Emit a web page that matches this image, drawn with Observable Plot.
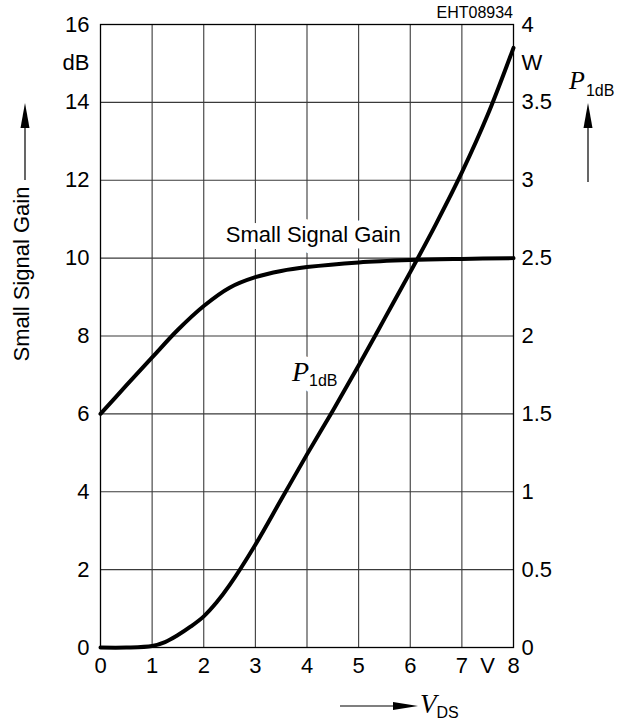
<!DOCTYPE html>
<html>
<head>
<meta charset="utf-8">
<script src="https://cdn.jsdelivr.net/npm/d3@7"></script>
<script src="https://cdn.jsdelivr.net/npm/@observablehq/plot@0.6"></script>
<style>
  html, body { margin: 0; padding: 0; background: #fff; }
  #chart svg { display: block; }
</style>
</head>
<body>
<div id="chart"></div>
<script>
// ---- data ----
const gainVds = [0, 0.5, 1, 1.5, 2, 2.5, 3, 3.5, 4, 5, 6, 7, 8];
const gainDb  = [6, 6.73, 7.45, 8.16, 8.77, 9.24, 9.51, 9.67, 9.77, 9.89, 9.95, 9.98, 10.0];

const powerVds = [0, 0.5, 1, 1.25, 1.5, 1.75, 2, 2.25, 2.5, 3, 3.5, 4, 4.5, 5, 5.5, 6, 6.5, 7, 7.5, 8];
const powerW   = [0, 0, 0.01, 0.035, 0.08, 0.135, 0.2, 0.29, 0.4, 0.66, 0.95, 1.24, 1.52, 1.81, 2.11, 2.41, 2.72, 3.05, 3.42, 3.85];

// axis ticks & labels
const xTicks       = [0, 1, 2, 3, 4, 5, 6, 7, 7.5, 8];
const xTickLabels  = ["0", "1", "2", "3", "4", "5", "6", "7", "V", "8"];
const leftTicks      = [0, 2, 4, 6, 8, 10, 12, 14, 15, 16];
const leftTickLabels = ["0", "2", "4", "6", "8", "10", "12", "14", "dB", "16"];
const rightTicks      = [0, 2, 4, 6, 8, 10, 12, 14, 15, 16];
const rightTickLabels = ["0", "0.5", "1", "1.5", "2", "2.5", "3", "3.5", "W", "4"];
const xGrid = [1, 2, 3, 4, 5, 6, 7];
const yGrid = [2, 4, 6, 8, 10, 12, 14];
const dbPerWatt = 4; // right axis: 4 W full scale == 16 dB

// in-plot curve labels (data units)
const curveLabels = [{name: "Small Signal Gain", x: 4.12, y: 10.59}];
const powerLabel  = [{x: 3.71, y: 7.07}];

const gainData  = gainVds.map((v, i) => ({v, g: gainDb[i]}));
const powerData = powerVds.map((v, i) => ({v, p: powerW[i]}));
const fmt = (ticks, labels) => d => labels[ticks.indexOf(d)];

const sans = "'Liberation Sans', Arial, Helvetica, sans-serif";
const serif = "'Liberation Serif', 'Times New Roman', serif";

const chart = Plot.plot({
  width: 627,
  height: 728,
  marginLeft: 100,
  marginRight: 114,
  marginTop: 24,
  marginBottom: 81,
  style: {fontFamily: sans, background: "#fff", color: "#000"},
  x: {domain: [0, 8]},
  y: {domain: [0, 16]},
  marks: [
    Plot.ruleX(xGrid, {stroke: "#3a3a3a", strokeWidth: 1.1}),
    Plot.ruleY(yGrid, {stroke: "#3a3a3a", strokeWidth: 1.1}),
    Plot.frame({stroke: "#000", strokeWidth: 1.3}),
    Plot.axisY(leftTicks, {anchor: "left", tickSize: 0, tickPadding: 11, fontSize: 22,
      tickFormat: fmt(leftTicks, leftTickLabels), label: null}),
    Plot.axisY(rightTicks, {anchor: "right", tickSize: 0, tickPadding: 8, fontSize: 22,
      tickFormat: fmt(rightTicks, rightTickLabels), label: null}),
    Plot.axisX(xTicks, {anchor: "bottom", tickSize: 0, tickPadding: 10, fontSize: 22,
      tickFormat: fmt(xTicks, xTickLabels), label: null}),
    Plot.text(curveLabels, {x: "x", y: "y", text: "name", fontSize: 22, fontFamily: sans,
      fill: "#000", stroke: "#fff", strokeWidth: 14, paintOrder: "stroke"}),
    Plot.text(powerLabel, {x: "x", y: "y", text: () => "P", textAnchor: "start", fontSize: 28,
      fontFamily: serif, fontStyle: "italic", fill: "#000", stroke: "#fff", strokeWidth: 14, paintOrder: "stroke"}),
    Plot.text(powerLabel, {x: "x", y: "y", text: () => "1dB", textAnchor: "start", dx: 17, dy: 9,
      fontSize: 16, fontFamily: sans, fill: "#000", stroke: "#fff", strokeWidth: 12, paintOrder: "stroke"}),
    Plot.line(gainData, {x: "v", y: "g", stroke: "#000", strokeWidth: 4, curve: "catmull-rom"}),
    Plot.line(powerData, {x: "v", y: d => d.p * dbPerWatt, stroke: "#000", strokeWidth: 4, curve: "catmull-rom"})
  ]
});

document.getElementById("chart").appendChild(chart);

// ---- decorations: axis titles with arrows, figure code ----
const sx = chart.scale("x"), sy = chart.scale("y");
const X0 = sx.apply(0), X8 = sx.apply(8), Ytop = sy.apply(16), Ybot = sy.apply(0);
const svg = d3.select(chart);
const g = svg.append("g").attr("fill", "#000").attr("text-anchor", "start");

// figure code
g.append("text").attr("x", X8).attr("y", Ytop - 6).attr("text-anchor", "end")
  .attr("font-family", sans).attr("font-size", 16).text("EHT08934");

function vArrow(x, tipY, baseY, endY) {
  g.append("line").attr("x1", x).attr("x2", x).attr("y1", baseY - 2).attr("y2", endY)
    .attr("stroke", "#000").attr("stroke-width", 1.2);
  g.append("path").attr("d", `M${x},${tipY} L${x - 4.5},${baseY} L${x + 4.5},${baseY} Z`);
}

// left axis title
vArrow(X0 - 75, 103, 128, 180);
g.append("text").attr("transform", `translate(${X0 - 71},274) rotate(-90)`)
  .attr("text-anchor", "middle").attr("font-family", sans).attr("font-size", 22)
  .text("Small Signal Gain");

// right axis title
vArrow(X8 + 75, 103, 128, 182);
const rt = g.append("text").attr("x", X8 + 56).attr("y", 89).attr("font-family", serif)
  .attr("text-anchor", "start");
rt.append("tspan").attr("font-style", "italic").attr("font-size", 26).text("P");
rt.append("tspan").attr("font-family", sans).attr("font-size", 16).attr("dy", 7).attr("dx", 1).text("1dB");

// bottom axis title
const yb = Ybot + 59;
g.append("line").attr("x1", 340).attr("x2", 396).attr("y1", yb).attr("y2", yb)
  .attr("stroke", "#000").attr("stroke-width", 1.2);
g.append("path").attr("d", `M418,${yb} L393,${yb - 4} L393,${yb + 4} Z`);
const bt = g.append("text").attr("x", 420).attr("y", yb + 7).attr("font-family", serif)
  .attr("text-anchor", "start");
bt.append("tspan").attr("font-style", "italic").attr("font-size", 27).text("V");
bt.append("tspan").attr("font-family", sans).attr("font-size", 16).attr("dy", 5).attr("dx", 0).text("DS");
</script>
</body>
</html>
